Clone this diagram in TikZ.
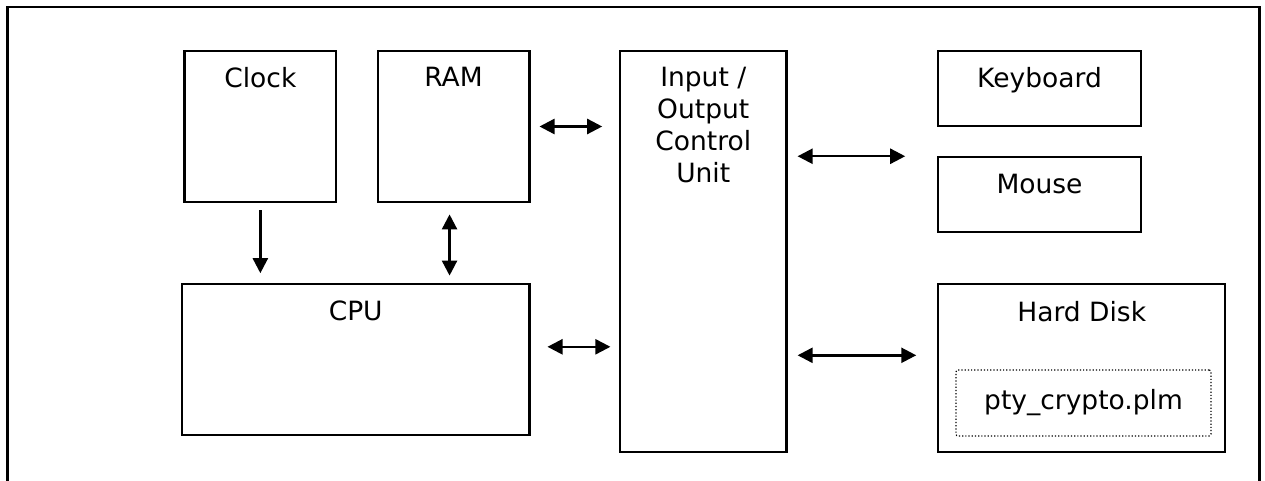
\documentclass[tikz,border=0pt]{standalone}
\usepackage{fontspec}
\setmainfont{DejaVu Sans}
\usepackage{tikz}
\usetikzlibrary{arrows.meta}

\begin{document}
\begin{tikzpicture}[x=1pt,y=-1pt,
    blk/.style={draw,line width=2.2pt,inner sep=0pt},
    lbl/.style={anchor=north,inner sep=0pt,yshift=-17.5pt,align=center},
    link/.style={line width=2.4pt,-{Triangle[length=15pt,width=15pt]}},
    dlink/.style={line width=2.4pt,{Triangle[length=15pt,width=15pt]}-{Triangle[length=15pt,width=15pt]}}]
\useasboundingbox (0,0) rectangle (1265,481);
\fontsize{26.5}{32}\selectfont
% open frame round the whole system
\draw[line width=2.6pt] (7.5,483) -- (7.5,7) -- (1259.5,7) -- (1259.5,483);

% left group
\node[blk,minimum width=151.7pt,minimum height=151.6pt,label={[lbl]north:Clock}] (clock) at (260.35,126.5) {};
\node[blk,minimum width=151.7pt,minimum height=151.6pt,label={[lbl]north:RAM}] (ram) at (453.55,126.5) {};
\node[blk,minimum width=347.4pt,minimum height=151pt,label={[lbl]north:CPU}] (cpu) at (355.7,359.8) {};

% i/o unit
\node[blk,minimum width=166.5pt,minimum height=401.6pt,label={[lbl]north:Input /\\Output\\Control\\Unit}] (io) at (703.25,251.5) {};

% devices
\node[blk,minimum width=202.4pt,minimum height=75pt,label={[lbl]north:Keyboard}] (keyboard) at (1039.5,88.2) {};
\node[blk,minimum width=202.4pt,minimum height=74.7pt,label={[lbl]north:Mouse}] (mouse) at (1039.5,194.7) {};
\node[blk,minimum width=286.7pt,minimum height=168pt,label={[lbl]north:Hard Disk}] (hd) at (1081.7,368.3) {};
\node[draw,dotted,line width=1.2pt,rounded corners=2pt,minimum width=255pt,minimum height=66pt] (file) at (1083.5,403) {pty\_crypto.plm};

% connectors
\coordinate (ramport) at ([xshift=-4pt]ram.south);
\coordinate (cpuport) at ([yshift=13pt]cpu.east);
\coordinate (hdport) at ([yshift=13pt]hd.west);
\draw[link,shorten <=7pt,shorten >=10pt] (clock.south) -- (clock.south |- cpu.north);
\draw[dlink,shorten <=11pt,shorten >=7.6pt] (ramport) -- (ramport |- cpu.north);
\draw[dlink,shorten <=9pt,shorten >=16.7pt] (ram.east) -- (ram.east -| io.west);
\draw[dlink,shorten <=17pt,shorten >=8.5pt] (cpuport) -- (cpuport -| io.west);
\draw[dlink,shorten <=10pt,shorten >=32pt] (io.east |- mouse.north) -- (mouse.north west);
\draw[dlink,shorten <=10pt,shorten >=21pt] (hdport -| io.east) -- (hdport);
\end{tikzpicture}
\end{document}
